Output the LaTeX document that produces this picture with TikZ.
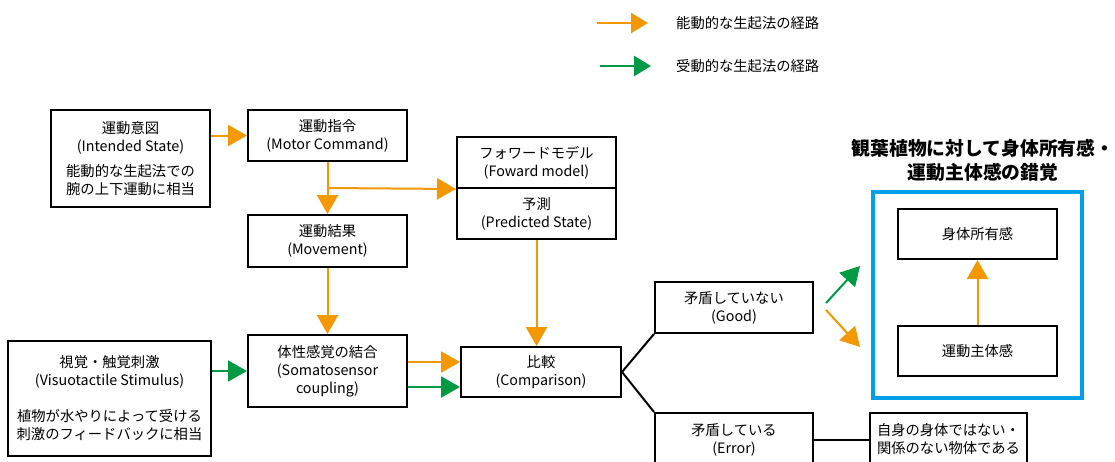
\documentclass[tikz,border=0pt]{standalone}
\usepackage{fontspec}
\setmainfont{Noto Sans CJK JP}
\usetikzlibrary{arrows.meta}
\definecolor{oc}{RGB}{243,152,0}
\definecolor{gc}{RGB}{0,153,68}
\definecolor{bc}{RGB}{0,160,233}
\tikzset{
  box/.style={draw=black, line width=2pt, inner sep=0pt, align=center, fill=white,
    font=\fontsize{14.3}{18}\selectfont},
  oarr/.style={draw=oc, line width=2pt, -{Triangle[length=19pt,width=21pt]}, fill=oc},
  garr/.style={draw=gc, line width=2pt, -{Triangle[length=19pt,width=21pt]}, fill=gc},
  link/.style={draw=black, line width=2pt},
  lbl/.style={font=\fontsize{14.3}{18}\selectfont, anchor=west, inner sep=0pt}
}
\begin{document}
\begin{tikzpicture}[x=1pt,y=-1pt]
\useasboundingbox (0,0) rectangle (1115,461);
\clip (0,0) rectangle (1115,461);
\fill[white] (0,0) rectangle (1115,461);
% legend
\coordinate (lo1) at (597,23); \coordinate (lo2) at (648,23);
\coordinate (lg1) at (600,66); \coordinate (lg2) at (651,66);
\draw[oarr, -{Triangle[length=17pt,width=20pt]}] (lo1) -- (lo2);
\draw[garr, line width=2.5pt, -{Triangle[length=17pt,width=20pt]}] (lg1) -- (lg2);
\node[lbl] (lt1) at (676,23) {能動的な生起法の経路};
\node[lbl] (lt2) at (676,66) {受動的な生起法の経路};
% boxes
\node[box, minimum width=159pt, minimum height=97pt] (intent) at (130.5,158.5)
  {運動意図\\(Intended State)\\[7pt]能動的な生起法での\\腕の上下運動に相当};
\node[box, minimum width=159pt, minimum height=51pt] (cmd) at (327.5,135.5)
  {運動指令\\(Motor Command)};
\node[box, minimum width=159pt, minimum height=52pt] (move) at (327.5,241)
  {運動結果\\(Movement)};
\node[box, minimum width=159pt, minimum height=51pt] (fm) at (536.5,162.5)
  {フォワードモデル\\(Foward model)};
\node[box, minimum width=159pt, minimum height=51pt] (pred) at (536.5,213.5)
  {予測\\(Predicted State)};
\node[box, minimum width=159pt, minimum height=72pt] (soma) at (327.5,371)
  {体性感覚の結合\\(Somatosensor\\coupling)};
\node[box, minimum width=203pt, minimum height=115pt] (vis) at (109.5,398.5)
  {視覚・触覚刺激\\(Visuotactile Stimulus)\\[18pt]植物が水やりによって受ける\\刺激のフィードバックに相当};
\node[box, minimum width=160pt, minimum height=50pt] (comp) at (541,372)
  {比較\\(Comparison)};
\node[box, minimum width=158pt, minimum height=51pt] (good) at (734,307.5)
  {矛盾していない\\(Good)};
\node[box, minimum width=158pt, minimum height=53pt] (err) at (734,439.5)
  {矛盾している\\(Error)};
\node[box, minimum width=157pt, minimum height=53pt] (res) at (948.5,439.5)
  {自身の身体ではない・\\関係のない物体である};
\node[draw=bc, line width=4pt, minimum width=209pt, minimum height=206pt, inner sep=0pt] (illu) at (977.5,295) {};
\node[box, minimum width=159pt, minimum height=50pt] (own) at (977.5,234) {身体所有感};
\node[box, minimum width=159pt, minimum height=50pt] (agency) at (977.5,351) {運動主体感};
\node[align=center, inner sep=0pt, font=\fontsize{18.8}{24}\selectfont\bfseries] (title) at (983,160)
  {観葉植物に対して身体所有感・\\運動主体感の錯覚};
% connectors
\draw[oarr] (intent.east |- cmd.west) -- (cmd.west);
\draw[oarr] (cmd.south) -- (move.north);
\coordinate (br) at (327.5,188);
\draw[oarr] (br) -- (fm.south west);
\draw[oarr] (move.south) -- (soma.north);
\draw[oarr] (pred.south) -- (pred.south |- comp.north);
\draw[garr] (vis.east |- soma.west) -- (soma.west);
\draw[oarr] ([yshift=9pt]soma.east) -- ([yshift=9pt]soma.east -| comp.west);
\draw[garr] ([yshift=-16pt]soma.east) -- ([yshift=-16pt]soma.east -| comp.west);
\draw[link] (comp.east) -- (good.south west);
\draw[link] (comp.east) -- (err.north west);
\draw[link] (err.east) -- (res.west);
\coordinate (g1) at (826,303); \coordinate (g2) at (860,266);
\coordinate (o1) at (826,310); \coordinate (o2) at (860,347);
\draw[garr] (g1) -- (g2);
\draw[oarr] (o1) -- (o2);
\draw[oarr] (agency.north) -- (own.south);
\end{tikzpicture}
\end{document}
